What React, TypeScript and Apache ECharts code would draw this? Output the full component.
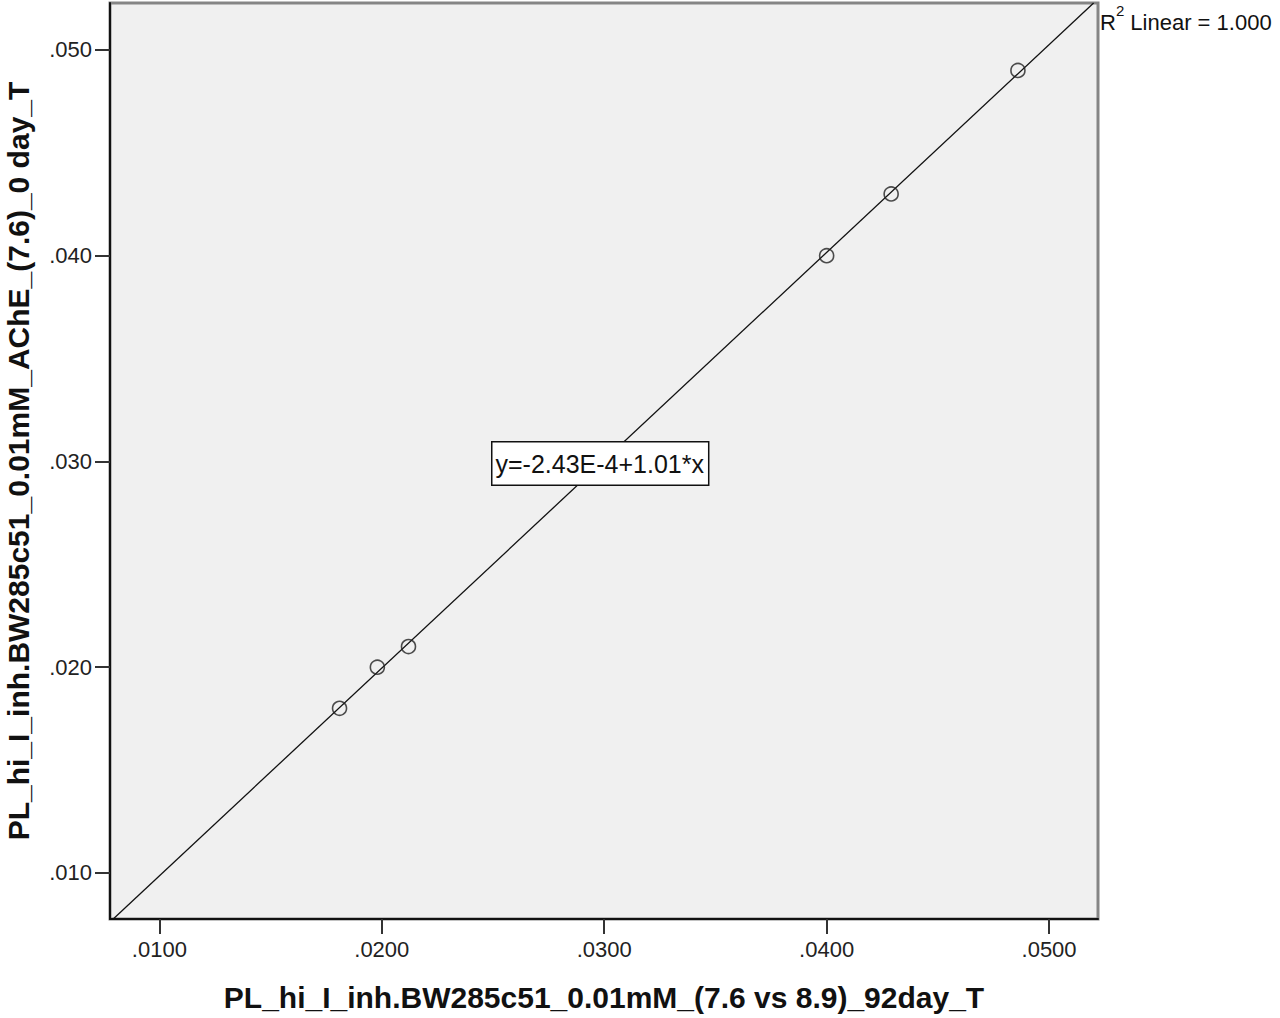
import React, { useEffect, useRef } from "react";
import * as echarts from "echarts";

const xValues = [0.0181, 0.0198, 0.0212, 0.04, 0.0429, 0.0486];
const yValues = [0.018, 0.02, 0.021, 0.04, 0.043, 0.049];
const fitIntercept = -2.43e-4;
const fitSlope = 1.01;
const xTicks = [0.01, 0.02, 0.03, 0.04, 0.05];
const yTicks = [0.01, 0.02, 0.03, 0.04, 0.05];
const xTitle = "PL_hi_I_inh.BW285c51_0.01mM_(7.6 vs 8.9)_92day_T";
const yTitle = "PL_hi_I_inh.BW285c51_0.01mM_AChE_(7.6)_0 day_T";
const eqText = "y=-2.43E-4+1.01*x";

const X_MIN = 0.00778;
const X_MAX = 0.0522;
const Y_MIN = 0.00776;
const Y_MAX = 0.05228;
const FONT = "Arial, 'Liberation Sans', sans-serif";

export default function App() {
  const ref = useRef<HTMLDivElement>(null);
  useEffect(() => {
    const chart = echarts.init(ref.current!, undefined, { renderer: "svg" });
    const pts = xValues.map((x, i) => [x, yValues[i]]);
    const xa = (Y_MIN - fitIntercept) / fitSlope;
    const xb = (Y_MAX - fitIntercept) / fitSlope;
    const x0 = Math.max(X_MIN, xa);
    const x1 = Math.min(X_MAX, xb);
    const fit = [
      [x0, fitIntercept + fitSlope * x0],
      [x1, fitIntercept + fitSlope * x1],
    ];
    chart.setOption({
      animation: false,
      backgroundColor: "#ffffff",
      grid: {
        left: 110,
        top: 3,
        right: 182,
        bottom: 99,
        outerBoundsMode: "none",
        containLabel: false,
        show: true,
        backgroundColor: "#f0f0f0",
        borderColor: "#858585",
        borderWidth: 3,
      },
      xAxis: {
        type: "value",
        min: X_MIN,
        max: X_MAX,
        axisLine: { show: true, onZero: false, lineStyle: { color: "#111", width: 2 } },
        axisTick: {
          show: true,
          length: 15,
          lineStyle: { color: "#333", width: 2 },
          customValues: xTicks,
        },
        axisLabel: {
          customValues: xTicks,
          margin: 19,
          color: "#222",
          fontFamily: FONT,
          fontSize: 22,
          formatter: (v: number) => v.toFixed(4).replace(/^0/, ""),
        },
        splitLine: { show: false },
        name: xTitle,
        nameLocation: "middle",
        nameGap: 63,
        nameTextStyle: {
          color: "#111",
          fontWeight: "bold",
          fontSize: 30,
          fontFamily: FONT,
        },
      },
      yAxis: {
        type: "value",
        min: Y_MIN,
        max: Y_MAX,
        axisLine: { show: true, onZero: false, lineStyle: { color: "#111", width: 2 } },
        axisTick: {
          show: true,
          length: 15,
          lineStyle: { color: "#333", width: 2 },
          customValues: yTicks,
        },
        axisLabel: {
          customValues: yTicks,
          margin: 18,
          color: "#222",
          fontFamily: FONT,
          fontSize: 22,
          formatter: (v: number) => v.toFixed(3).replace(/^0/, ""),
        },
        splitLine: { show: false },
        name: yTitle,
        nameLocation: "middle",
        nameGap: 77,
        nameTextStyle: {
          color: "#111",
          fontWeight: "bold",
          fontSize: 30,
          fontFamily: FONT,
        },
      },
      series: [
        {
          type: "line",
          data: fit,
          symbol: "none",
          lineStyle: { color: "#111", width: 1.3 },
          clip: true,
          z: 2,
          silent: true,
        },
        {
          type: "scatter",
          data: pts,
          symbol: "circle",
          symbolSize: 14,
          itemStyle: { color: "rgba(0,0,0,0)", borderColor: "#222", borderWidth: 1.6 },
          z: 3,
        },
      ],
      graphic: [
        {
          type: "text",
          left: 491,
          top: 441,
          z: 10,
          style: {
            text: eqText,
            fontSize: 25,
            lineHeight: 25,
            fontFamily: FONT,
            fill: "#111",
            backgroundColor: "#ffffff",
            borderColor: "#111",
            borderWidth: 1.5,
            padding: [9, 4, 8, 3],
          },
        },
        {
          type: "text",
          left: 1100,
          top: 3,
          z: 10,
          style: {
            text: "{r|R}{s|2}{r| Linear = 1.000}",
            rich: {
              r: { fontSize: 22, fontFamily: FONT, fill: "#111", verticalAlign: "bottom", lineHeight: 30 },
              s: { fontSize: 15, fontFamily: FONT, fill: "#111", verticalAlign: "top", lineHeight: 30 },
            },
          },
        },
      ],
    });
    return () => chart.dispose();
  }, []);
  return (
    <div
      ref={ref}
      style={{ position: "fixed", left: 0, top: 0, width: 1280, height: 1018, background: "#fff" }}
    />
  );
}
